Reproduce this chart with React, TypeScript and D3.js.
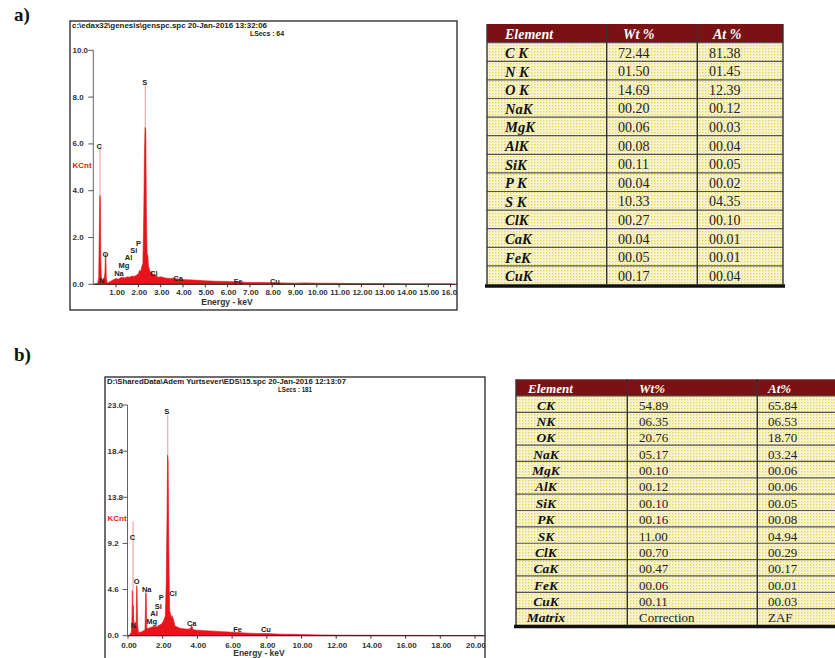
import * as d3 from "d3";

type Pt = [number, number];
type PeakLabel = { name: string; keV: number; cnt: number };

// ---- panel a: spectrum (keV, KCnt) ----
const spectrumA: Pt[] = [
  [0.0, 0], [0.1, 0.02], [0.18, 0.05], [0.22, 0.3], [0.25, 2.6], [0.27, 3.8],
  [0.29, 3.6], [0.31, 1.2], [0.34, 0.25], [0.39, 0.2], [0.45, 0.12], [0.5, 0.5],
  [0.52, 1.3], [0.54, 1.25], [0.56, 0.3], [0.6, 0.05], [0.7, 0.1], [0.8, 0.15],
  [0.9, 0.2], [1.0, 0.25], [1.1, 0.22], [1.2, 0.28], [1.3, 0.3], [1.4, 0.27],
  [1.5, 0.32], [1.6, 0.3], [1.7, 0.35], [1.8, 0.33], [1.9, 0.38], [2.0, 0.45],
  [2.05, 0.6], [2.1, 0.55], [2.15, 0.75], [2.2, 0.9], [2.24, 3.0], [2.27, 5.5],
  [2.3, 6.7], [2.33, 6.6], [2.36, 3.0], [2.39, 1.3], [2.42, 1.25], [2.45, 0.8],
  [2.5, 0.6], [2.55, 0.5], [2.6, 0.55], [2.65, 0.4], [2.7, 0.45], [2.8, 0.35],
  [2.9, 0.3], [3.0, 0.32], [3.2, 0.27], [3.4, 0.25], [3.6, 0.26], [3.8, 0.22],
  [4.0, 0.2], [4.5, 0.18], [5.0, 0.15], [5.5, 0.13], [6.0, 0.12], [6.5, 0.1],
  [7.0, 0.08], [7.5, 0.08], [8.0, 0.07], [8.5, 0.06], [9.0, 0.05], [9.5, 0.06],
  [10.0, 0.05], [11, 0.04], [12, 0.03], [13, 0.03], [14, 0.02], [15, 0.02],
  [16, 0.02], [16.2, 0],
];
const tipsA: Pt[] = [[0.28, 5.9], [2.31, 8.5]];
const peakLabelsA: PeakLabel[] = [
  { name: "S", keV: 2.29, cnt: 8.63 },
  { name: "C", keV: 0.24, cnt: 5.88 },
  { name: "O", keV: 0.52, cnt: 1.28 },
  { name: "N", keV: 0.35, cnt: 0.18 },
  { name: "Na", keV: 1.13, cnt: 0.45 },
  { name: "Mg", keV: 1.35, cnt: 0.8 },
  { name: "Al", keV: 1.56, cnt: 1.14 },
  { name: "Si", keV: 1.79, cnt: 1.45 },
  { name: "P", keV: 2.01, cnt: 1.76 },
  { name: "Cl", keV: 2.69, cnt: 0.47 },
  { name: "Ca", keV: 3.78, cnt: 0.23 },
  { name: "Fe", keV: 6.47, cnt: 0.14 },
  { name: "Cu", keV: 8.12, cnt: 0.14 },
];
const xTicksA = [1, 2, 3, 4, 5, 6, 7, 8, 9, 10, 11, 12, 13, 14, 15, 16];
const yTicksA = [0, 2, 4, 6, 8, 10];

// ---- panel b: spectrum ----
const spectrumB: Pt[] = [
  [0, 0], [0.1, 0.1], [0.18, 0.3], [0.22, 1.0], [0.25, 4.5], [0.27, 2.0],
  [0.29, 1.5], [0.31, 3.0], [0.33, 1.2], [0.37, 1.0], [0.4, 1.4], [0.43, 0.8],
  [0.47, 1.0], [0.5, 5.0], [0.52, 4.8], [0.54, 2.7], [0.56, 1.0], [0.6, 0.3],
  [0.7, 0.35], [0.8, 0.4], [0.9, 0.5], [0.98, 0.6], [1.02, 4.3], [1.05, 4.2],
  [1.08, 0.8], [1.15, 0.7], [1.25, 0.8], [1.35, 0.85], [1.45, 0.9], [1.55, 0.95],
  [1.65, 0.9], [1.75, 1.0], [1.85, 1.1], [1.95, 1.2], [2.05, 1.5], [2.15, 2.0],
  [2.2, 5.0], [2.25, 12], [2.28, 18], [2.31, 17.5], [2.34, 10.9], [2.37, 6],
  [2.4, 2.5], [2.45, 2.2], [2.5, 1.8], [2.55, 2.0], [2.6, 1.7], [2.65, 1.4],
  [2.7, 1.0], [2.8, 0.9], [3.0, 0.75], [3.2, 0.7], [3.4, 0.65], [3.6, 0.7],
  [3.66, 1.0], [3.7, 0.9], [3.75, 0.6], [4.0, 0.55], [4.5, 0.5], [5.0, 0.45],
  [5.5, 0.4], [6.0, 0.35], [6.5, 0.3], [7.0, 0.25], [7.5, 0.22], [8.0, 0.22],
  [8.5, 0.18], [9.0, 0.15], [9.5, 0.14], [10.0, 0.12], [11, 0.08], [12, 0.06],
  [13, 0.05], [14, 0.05], [15, 0.04], [16, 0.03], [18, 0.02], [20, 0.02],
  [20.5, 0],
];
const tipsB: Pt[] = [[0.29, 11.4], [2.29, 22.0]];
const peakLabelsB: PeakLabel[] = [
  { name: "S", keV: 2.23, cnt: 22.4 },
  { name: "C", keV: 0.25, cnt: 9.77 },
  { name: "O", keV: 0.5, cnt: 5.38 },
  { name: "Na", keV: 1.08, cnt: 4.63 },
  { name: "P", keV: 1.92, cnt: 3.8 },
  { name: "Si", keV: 1.74, cnt: 2.95 },
  { name: "Cl", keV: 2.6, cnt: 4.23 },
  { name: "Al", keV: 1.5, cnt: 2.2 },
  { name: "Mg", keV: 1.37, cnt: 1.4 },
  { name: "N", keV: 0.31, cnt: 0.97 },
  { name: "Ca", keV: 3.67, cnt: 1.24 },
  { name: "Fe", keV: 6.32, cnt: 0.57 },
  { name: "Cu", keV: 7.95, cnt: 0.57 },
];
const xTicksB = [0, 2, 4, 6, 8, 10, 12, 14, 16, 18, 20];
const yTicksB = [0, 4.6, 9.2, 13.8, 18.4, 23.0];

// ---- tables ----
const headersA = ["Element", "Wt %", "At %"];
const elementsA = ["C K", "N K", "O K", "NaK", "MgK", "AlK", "SiK", "P K", "S K", "ClK", "CaK", "FeK", "CuK"];
const wtA = ["72.44", "01.50", "14.69", "00.20", "00.06", "00.08", "00.11", "00.04", "10.33", "00.27", "00.04", "00.05", "00.17"];
const atA = ["81.38", "01.45", "12.39", "00.12", "00.03", "00.04", "00.05", "00.02", "04.35", "00.10", "00.01", "00.01", "00.04"];

const headersB = ["Element", "Wt%", "At%"];
const elementsB = ["CK", "NK", "OK", "NaK", "MgK", "AlK", "SiK", "PK", "SK", "ClK", "CaK", "FeK", "CuK", "Matrix"];
const wtB = ["54.89", "06.35", "20.76", "05.17", "00.10", "00.12", "00.10", "00.16", "11.00", "00.70", "00.47", "00.06", "00.11", "Correction"];
const atB = ["65.84", "06.53", "18.70", "03.24", "00.06", "00.06", "00.05", "00.08", "04.94", "00.29", "00.17", "00.01", "00.03", "ZAF"];

const RED = "#e8141c";
const PINK = "#f4a6a8";
const HEAD = "#7a1215";
const SANS = "'Liberation Sans', Arial, sans-serif";
const SERIF = "'Liberation Serif', 'Times New Roman', serif";

type SpecProps = {
  id: string;
  frame: { x: number; y: number; w: number; h: number };
  xScale: d3.ScaleLinear<number, number>;
  yScale: d3.ScaleLinear<number, number>;
  data: Pt[];
  tips: Pt[];
  labels: PeakLabel[];
  xTicks: number[];
  yTicks: number[];
  title: string;
  titleWidth: number;
  lsecs: string;
  lsecsX: number;
  kcntY: number;
  tickLabelY: number;
  energyX: number;
  energyY: number;
};

const Spectrum = (p: SpecProps) => {
  const { frame, xScale, yScale } = p;
  const axisX = xScale(0) - 0.5;
  const baseY = yScale(0);
  const topY = yScale(p.yTicks[p.yTicks.length - 1]);
  const xFmt = d3.format(".2f");
  const yFmt = d3.format(".1f");
  const area = d3
    .area<Pt>()
    .x((d) => xScale(d[0]))
    .y0(baseY)
    .y1((d) => yScale(d[1]));

  return (
    <g>
      <defs>
        <clipPath id={`clip-${p.id}`}>
          <rect x={frame.x} y={frame.y} width={frame.w} height={frame.h} />
        </clipPath>
      </defs>
      <rect x={frame.x} y={frame.y} width={frame.w} height={frame.h} fill="#fff" stroke="#222" strokeWidth={1.3} />
      <g clipPath={`url(#clip-${p.id})`} fontFamily={SANS} fontWeight="bold">
        <text x={frame.x + 2} y={frame.y + 4.5} fontSize={7} dominantBaseline="central" fill="#222" textLength={p.titleWidth} lengthAdjust="spacingAndGlyphs">
          {p.title}
        </text>
        <text x={p.lsecsX} y={frame.y + 12.5} fontSize={7} dominantBaseline="central" fill="#222" textLength={34} lengthAdjust="spacingAndGlyphs">
          {p.lsecs}
        </text>

        {/* y axis */}
        <line x1={axisX} x2={axisX} y1={topY} y2={baseY} stroke="#666" strokeWidth={1} />
        {p.yTicks.map((t) => (
          <g key={`y${t}`}>
            <line x1={axisX - 5} x2={axisX} y1={yScale(t)} y2={yScale(t)} stroke="#555" />
            <text x={frame.x + 2.5} y={yScale(t)} fontSize={8} dominantBaseline="central" fill="#333">
              {yFmt(t)}
            </text>
          </g>
        ))}
        <text x={frame.x + 2.5} y={p.kcntY} fontSize={8} dominantBaseline="central" fill={RED}>
          KCnt
        </text>

        {/* tip traces + spectrum */}
        {p.tips.map((d, i) => (
          <line key={`tip${i}`} x1={xScale(d[0])} x2={xScale(d[0])} y1={baseY} y2={yScale(d[1])} stroke={PINK} strokeWidth={1.2} />
        ))}
        <path d={area(p.data) ?? ""} fill={RED} stroke={RED} strokeWidth={0.6} />

        {/* x axis */}
        <line x1={axisX} x2={frame.x + frame.w} y1={baseY} y2={baseY} stroke="#222" strokeWidth={1} />
        {p.xTicks.map((t) => (
          <g key={`x${t}`}>
            <line x1={xScale(t)} x2={xScale(t)} y1={baseY} y2={baseY + 3} stroke="#333" />
            <text x={xScale(t) + 1} y={p.tickLabelY} fontSize={8} textAnchor="middle" dominantBaseline="central" fill="#333">
              {xFmt(t)}
            </text>
          </g>
        ))}
        <text x={p.energyX} y={p.energyY} fontSize={8.5} textAnchor="middle" dominantBaseline="central" fill="#333">
          Energy - keV
        </text>

        {p.labels.map((l) => (
          <text key={l.name} x={xScale(l.keV)} y={yScale(l.cnt)} fontSize={7.5} textAnchor="middle" dominantBaseline="central" fill="#222">
            {l.name}
          </text>
        ))}
      </g>
    </g>
  );
};

type TableProps = {
  x: number;
  right: number;
  top: number;
  headH: number;
  rowH: number;
  cols: number[];
  headers: string[];
  headX: number[];
  elements: string[];
  wt: string[];
  at: string[];
  elemX: number;
  elemAnchor: "start" | "middle";
  valX: [number, number];
  fontSize: number;
};

const Table = (t: TableProps) => {
  const n = t.elements.length;
  const rowY = d3.scaleLinear().domain([0, n]).range([t.top + t.headH, t.top + t.headH + n * t.rowH]);
  const bottom = rowY(n);
  const edges = [t.x, ...t.cols, t.right];
  return (
    <g fontFamily={SERIF}>
      <rect x={t.x} y={t.top + t.headH} width={t.right - t.x} height={bottom - t.top - t.headH} fill="url(#dots)" />
      <rect x={t.x} y={t.top} width={t.right - t.x} height={t.headH} fill={HEAD} />
      {t.headers.map((h, i) => (
        <text key={h} x={t.headX[i]} y={t.top + t.headH / 2 + 1} fontSize={t.fontSize} fontWeight="bold" fontStyle="italic" fill="#fff" dominantBaseline="central">
          {h}
        </text>
      ))}
      {d3.range(n).map((i) => (
        <g key={i}>
          <line x1={t.x} x2={t.right} y1={rowY(i)} y2={rowY(i)} stroke="#555" strokeWidth={1.2} />
          <text x={t.elemX} y={(rowY(i) + rowY(i + 1)) / 2 + 1} fontSize={t.fontSize + 0.5} fontWeight="bold" fontStyle="italic" textAnchor={t.elemAnchor} dominantBaseline="central" fill="#111">
            {t.elements[i]}
          </text>
          <text x={t.valX[0]} y={(rowY(i) + rowY(i + 1)) / 2 + 1} fontSize={t.fontSize} dominantBaseline="central" fill="#222">
            {t.wt[i]}
          </text>
          <text x={t.valX[1]} y={(rowY(i) + rowY(i + 1)) / 2 + 1} fontSize={t.fontSize} dominantBaseline="central" fill="#222">
            {t.at[i]}
          </text>
        </g>
      ))}
      {edges.map((ex, i) => (
        <line key={`v${i}`} x1={ex} x2={ex} y1={t.top} y2={bottom} stroke="#333" strokeWidth={1.4} />
      ))}
      <line x1={t.x - 2} x2={t.right + 2} y1={bottom + 1.5} y2={bottom + 1.5} stroke="#111" strokeWidth={3.5} />
    </g>
  );
};

export default function App() {
  const xA = d3.scaleLinear().domain([0, 16]).range([93.8, 93.8 + 16 * 22.3]);
  const yA = d3.scaleLinear().domain([0, 10]).range([284.3, 50.3]);
  const xB = d3.scaleLinear().domain([0, 20]).range([128, 128 + 20 * 17.35]);
  const yB = d3.scaleLinear().domain([0, 23]).range([635.7, 405]);

  return (
    <svg width={835} height={658} style={{ position: "absolute", left: 0, top: 0, background: "#fff" }}>
      <defs>
        <pattern id="dots" width={3} height={3} patternUnits="userSpaceOnUse">
          <rect width={3} height={3} fill="#fdfae0" />
          <rect width={1.4} height={1.4} fill="#e0d350" />
          <rect x={1.5} y={1.5} width={1.1} height={1.1} fill="#ece28e" />
        </pattern>
      </defs>

      <text x={14} y={21} fontFamily={SERIF} fontWeight="bold" fontSize={19} fill="#111">a)</text>
      <text x={14} y={361} fontFamily={SERIF} fontWeight="bold" fontSize={19} fill="#111">b)</text>

      <Spectrum
        id="a"
        frame={{ x: 70, y: 21, w: 387, h: 289 }}
        xScale={xA}
        yScale={yA}
        data={spectrumA}
        tips={tipsA}
        labels={peakLabelsA}
        xTicks={xTicksA}
        yTicks={yTicksA}
        title="c:\edax32\genesis\genspc.spc  20-Jan-2016 13:32:06"
        titleWidth={195}
        lsecs="LSecs :  64"
        lsecsX={250}
        kcntY={165}
        tickLabelY={292}
        energyX={227}
        energyY={302}
      />
      <Spectrum
        id="b"
        frame={{ x: 105, y: 377, w: 380, h: 295 }}
        xScale={xB}
        yScale={yB}
        data={spectrumB}
        tips={tipsB}
        labels={peakLabelsB}
        xTicks={xTicksB}
        yTicks={yTicksB}
        title="D:\SharedData\Adem Yurtsever\EDS\15.spc  20-Jan-2016 12:13:07"
        titleWidth={239}
        lsecs="LSecs :  181"
        lsecsX={278}
        kcntY={518}
        tickLabelY={645}
        energyX={259}
        energyY={653}
      />

      <Table
        x={487}
        right={783}
        top={24}
        headH={18.7}
        rowH={18.6}
        cols={[606.7, 697.3]}
        headers={headersA}
        headX={[505, 623, 713]}
        elements={elementsA}
        wt={wtA}
        at={atA}
        elemX={505}
        elemAnchor="start"
        valX={[618, 709]}
        fontSize={14}
      />
      <Table
        x={516}
        right={850}
        top={379.3}
        headH={16.7}
        rowH={16.36}
        cols={[627.3, 757.3]}
        headers={headersB}
        headX={[528, 639, 768]}
        elements={elementsB}
        wt={wtB}
        at={atB}
        elemX={546}
        elemAnchor="middle"
        valX={[639, 768]}
        fontSize={13}
      />
    </svg>
  );
}
